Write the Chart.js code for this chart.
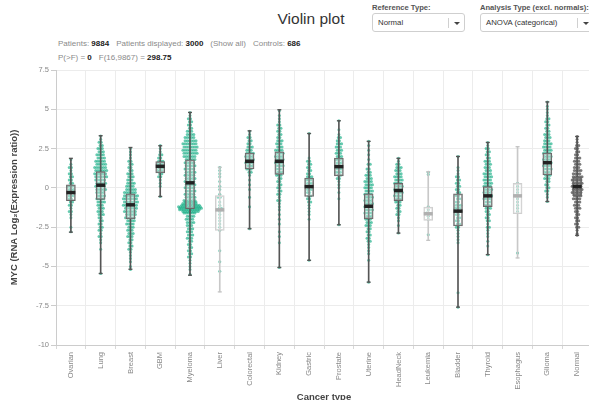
<!DOCTYPE html>
<html>
<head>
<meta charset="utf-8">
<script src="https://cdn.jsdelivr.net/npm/chart.js@4.4.1/dist/chart.umd.min.js"></script>
<style>
  html, body { margin: 0; padding: 0; width: 589px; height: 400px; overflow: hidden; background: #fff;
    font-family: "Liberation Sans", Arial, Helvetica, sans-serif; }
  #plotTitle { position: absolute; left: 0; width: 622px; top: 10px; text-align: center; font-size: 15.5px; color: #333; }
  .stats { position: absolute; left: 58px; font-size: 8px; color: #8a8a8a; white-space: nowrap; }
  .stats b { color: #222; }
  .stats .gap { display: inline-block; width: 7px; }
  .ctlLabel { position: absolute; top: 3px; font-size: 7.6px; font-weight: bold; color: #555; white-space: nowrap; }
  .select { position: absolute; top: 13px; height: 17px; border: 1px solid #cfcfcf; border-radius: 3px; background: #fff; }
  .select .txt { position: absolute; left: 5px; top: 0; line-height: 17px; font-size: 7.8px; color: #333; white-space: nowrap; }
  .select .div { position: absolute; top: 4px; width: 1px; height: 10px; background: #d0d0d0; }
  .select .caret { position: absolute; top: 8px; width: 0; height: 0; border-left: 3px solid transparent;
    border-right: 3px solid transparent; border-top: 3px solid #444; }
  #chartBox { position: absolute; left: 0; top: 62px; width: 600px; height: 345px; }
</style>
</head>
<body>
<div id="plotTitle">Violin plot</div>

<div class="stats" style="top:39px">Patients: <b>9884</b><span class="gap"></span>Patients displayed: <b>3000</b><span class="gap"></span>(Show all)<span class="gap"></span>Controls: <b>686</b></div>
<div class="stats" style="top:53px">P(&gt;F) = <b>0</b><span class="gap"></span>F(16,9867) = <b>298.75</b></div>

<div class="ctlLabel" style="left:372px">Reference Type:</div>
<div class="select" style="left:372px;width:91px"><span class="txt">Normal</span><span class="div" style="left:75px"></span><span class="caret" style="left:81px"></span></div>

<div class="ctlLabel" style="left:480px">Analysis Type (excl. normals):</div>
<div class="select" style="left:480px;width:120px"><span class="txt">ANOVA (categorical)</span><span class="div" style="left:96px"></span><span class="caret" style="left:102px"></span></div>

<div id="chartBox"><canvas id="violin"></canvas></div>

<script>
// Cancer types along the x axis
const cancerTypes = ['Ovarian', 'Lung', 'Breast', 'GBM', 'Myeloma', 'Liver', 'Colorectal', 'Kidney', 'Gastric',
  'Prostate', 'Uterine', 'HeadNeck', 'Leukemia', 'Bladder', 'Thyroid', 'Esophagus', 'Glioma', 'Normal'];

// Box-plot summary per cancer type (log2 expression ratio)
const whiskerLow  = [-2.82, -5.45, -5.18, -0.55, -5.56, -6.62, -2.60, -5.07, -4.61, -2.35, -6.00, -2.88, -3.34, -7.59, -4.25, -4.46, -0.87, -3.02];
const quartile1   = [-0.82, -0.74, -1.97,  0.95, -1.33, -2.71,  1.20,  0.86, -0.55,  0.76, -1.97, -0.81, -2.07, -2.43, -1.19, -1.65,  0.82, -0.49];
const medians     = [-0.30,  0.17, -1.08,  1.37,  0.32, -1.40,  1.69,  1.69,  0.08,  1.35, -1.17, -0.17, -1.65, -1.48, -0.51, -0.51,  1.60,  0.08];
const quartile3   = [ 0.19,  1.03, -0.38,  1.67,  1.78, -0.49,  2.22,  2.30,  0.63,  1.90, -0.38,  0.29, -1.23, -0.38,  0.08,  0.29,  2.22,  0.67];
const whiskerHigh = [ 1.88,  3.32,  2.57,  2.68,  4.80,  1.31,  3.63,  4.97,  3.46,  4.27,  2.96,  1.88,  1.03,  2.00,  2.89,  2.62,  5.47,  3.27];

// Groups drawn with a muted box (small sample size)
const mutedTypes = ['Liver', 'Leukemia', 'Esophagus'];

// Y axis tick values
const yTickValues = [-10, -7.5, -5, -2.5, 0, 2.5, 5, 7.5];

// Displayed patients per type: [expression value, number of patients at that value]
const ovarianPts = [[1.8,1],[1.5,1],[1.3,2],[1.1,1],[0.9,2],[0.7,2],[0.5,2],[0.3,2],[0.1,3],[-0.1,3],[-0.3,3],[-0.5,3],[-0.7,2],[-0.9,2],[-1.1,2],[-1.3,1],[-1.5,2],[-1.7,1],[-1.9,1],[-2.5,1],[-2.8,1]];
const lungPts = [[3.3,1],[3.1,1],[2.9,2],[2.7,2],[2.5,3],[2.3,3],[2.1,4],[1.9,4],[1.7,5],[1.5,5],[1.3,6],[1.1,6],[0.9,6],[0.7,6],[0.5,5],[0.3,5],[0.1,5],[-0.1,5],[-0.3,4],[-0.5,4],[-0.7,4],[-0.9,4],[-1.1,3],[-1.3,3],[-1.5,3],[-1.7,3],[-1.9,2],[-2.1,2],[-2.3,2],[-2.5,2],[-2.7,2],[-2.9,1],[-3.1,2],[-3.3,1],[-3.5,1],[-3.9,1],[-5.45,1]];
const breastPts = [[2.5,1],[2.3,1],[2.1,1],[1.9,1],[1.7,2],[1.5,2],[1.3,2],[1.1,2],[0.9,3],[0.7,3],[0.5,3],[0.3,4],[0.1,4],[-0.1,5],[-0.3,6],[-0.5,7],[-0.7,7],[-0.9,7],[-1.1,7],[-1.3,6],[-1.5,6],[-1.7,5],[-1.9,5],[-2.1,4],[-2.3,4],[-2.5,3],[-2.7,3],[-2.9,3],[-3.1,3],[-3.3,2],[-3.5,2],[-3.7,2],[-3.9,2],[-4.1,1],[-4.3,1],[-4.5,1],[-4.7,1],[-5.0,1],[-5.2,1]];
const gbmPts = [[2.7,1],[2.5,1],[2.3,1],[2.1,2],[1.9,2],[1.7,3],[1.5,3],[1.3,3],[1.1,3],[0.9,2],[0.7,2],[0.5,1],[0.3,1],[0.1,1],[-0.55,1]];
const myelomaPts = [[4.8,1],[4.6,1],[4.4,2],[4.2,2],[4.0,2],[3.8,2],[3.6,3],[3.4,4],[3.2,5],[3.0,6],[2.8,7],[2.6,7],[2.4,7],[2.2,7],[2.0,6],[1.8,5],[1.6,5],[1.4,5],[1.2,5],[1.0,5],[0.8,5],[0.6,5],[0.4,5],[0.2,5],[0.0,5],[-0.2,5],[-0.4,5],[-0.6,5],[-0.8,6],[-0.9,6],[-1.0,7],[-1.1,9],[-1.2,11],[-1.3,11],[-1.4,10],[-1.5,8],[-1.6,6],[-1.8,4],[-2.0,4],[-2.2,4],[-2.4,3],[-2.6,3],[-2.8,3],[-3.0,3],[-3.2,3],[-3.4,2],[-3.6,2],[-3.8,2],[-4.0,2],[-4.2,2],[-4.4,2],[-4.6,1],[-4.8,1],[-5.0,1],[-5.2,1],[-5.5,1]];
const liverPts = [[1.3,1],[1.1,1],[0.9,1],[0.7,1],[0.4,1],[0.1,1],[-0.1,1],[-0.4,1],[-0.6,2],[-0.9,1],[-1.1,1],[-1.3,2],[-1.5,1],[-1.7,1],[-1.9,1],[-2.1,1],[-2.3,1],[-2.5,1],[-2.7,1],[-4.0,1],[-4.7,1],[-5.3,1]];
const colorectalPts = [[3.6,1],[3.4,1],[3.2,2],[3.0,2],[2.8,2],[2.6,3],[2.4,3],[2.2,4],[2.0,4],[1.8,4],[1.6,4],[1.4,3],[1.2,3],[1.0,2],[0.8,1],[0.5,1],[0.2,1],[-0.1,1],[-0.6,1],[-1.2,1],[-2.6,1]];
const kidneyPts = [[4.9,1],[4.6,1],[4.4,1],[4.2,1],[4.0,2],[3.8,2],[3.6,2],[3.4,2],[3.2,2],[3.0,3],[2.8,3],[2.6,3],[2.4,4],[2.2,4],[2.0,4],[1.8,4],[1.6,4],[1.4,4],[1.2,3],[1.0,3],[0.8,3],[0.6,2],[0.4,2],[0.2,2],[0.0,2],[-0.2,2],[-0.4,2],[-0.6,1],[-0.8,2],[-1.0,1],[-1.2,1],[-1.4,1],[-1.7,1],[-2.0,1],[-2.3,1],[-2.8,1],[-3.1,1],[-3.5,1],[-5.07,1]];
const gastricPts = [[3.46,1],[1.9,1],[1.7,2],[1.5,2],[1.3,2],[1.1,2],[0.9,2],[0.7,3],[0.5,3],[0.3,3],[0.1,3],[-0.1,3],[-0.3,2],[-0.5,2],[-0.7,2],[-0.9,2],[-1.1,1],[-1.3,1],[-1.5,1],[-1.7,1],[-2.0,1],[-4.61,1]];
const prostatePts = [[4.27,1],[3.7,1],[3.4,1],[3.2,2],[3.0,2],[2.8,3],[2.6,3],[2.4,3],[2.2,3],[2.0,3],[1.8,3],[1.6,3],[1.4,3],[1.2,3],[1.0,3],[0.8,2],[0.6,2],[0.4,1],[0.2,1],[0.0,1],[-0.3,1],[-0.7,1],[-2.35,1]];
const uterinePts = [[2.96,1],[2.7,1],[2.4,1],[2.1,1],[1.8,1],[1.5,2],[1.2,2],[1.0,2],[0.8,3],[0.6,3],[0.4,4],[0.2,4],[0.0,4],[-0.2,4],[-0.4,4],[-0.6,4],[-0.8,4],[-1.0,4],[-1.2,4],[-1.4,4],[-1.6,4],[-1.8,3],[-2.0,3],[-2.2,3],[-2.4,3],[-2.6,2],[-2.8,2],[-3.0,2],[-3.2,2],[-3.4,2],[-3.6,1],[-3.8,1],[-4.0,1],[-4.2,1],[-4.6,1],[-6.0,1]];
const headNeckPts = [[1.88,1],[1.7,1],[1.5,2],[1.3,3],[1.1,3],[0.9,3],[0.7,4],[0.5,4],[0.3,4],[0.1,4],[-0.1,4],[-0.3,4],[-0.5,4],[-0.7,3],[-0.9,3],[-1.1,2],[-1.3,2],[-1.5,2],[-1.7,2],[-1.9,1],[-2.1,1],[-2.4,1],[-2.88,1]];
const leukemiaPts = [[1.0,1],[0.85,1],[-1.2,1],[-1.4,1],[-1.6,2],[-1.8,1],[-2.0,1],[-2.98,1]];
const bladderPts = [[2.0,1],[1.3,1],[1.1,1],[0.9,1],[0.7,2],[0.5,2],[0.3,2],[0.1,2],[-0.1,2],[-0.3,2],[-0.5,2],[-0.7,2],[-0.9,2],[-1.1,3],[-1.3,3],[-1.5,3],[-1.7,2],[-1.9,2],[-2.1,2],[-2.3,2],[-2.5,2],[-2.7,1],[-2.9,1],[-3.1,1],[-3.3,1],[-3.5,1],[-6.68,1],[-7.59,1]];
const thyroidPts = [[2.89,1],[2.7,1],[2.5,2],[2.3,2],[2.1,2],[1.9,2],[1.7,3],[1.5,3],[1.3,3],[1.1,3],[0.9,4],[0.7,4],[0.5,4],[0.3,4],[0.1,4],[-0.1,4],[-0.3,4],[-0.5,4],[-0.7,4],[-0.9,3],[-1.1,3],[-1.3,3],[-1.5,2],[-1.7,2],[-1.9,2],[-2.1,2],[-2.3,1],[-2.5,2],[-2.7,1],[-2.9,1],[-3.1,1],[-3.4,1],[-3.7,1],[-4.25,1]];
const esophagusPts = [[0.3,1],[0.1,1],[-0.1,1],[-0.3,1],[-0.5,2],[-0.7,1],[-0.9,1],[-1.1,1],[-1.3,1],[-1.5,1],[-4.15,1]];
const gliomaPts = [[5.47,1],[5.2,1],[5.0,1],[4.8,1],[4.6,1],[4.4,2],[4.2,2],[4.0,2],[3.8,2],[3.6,2],[3.4,3],[3.2,3],[3.0,3],[2.8,4],[2.6,4],[2.4,4],[2.2,4],[2.0,4],[1.8,4],[1.6,4],[1.4,4],[1.2,4],[1.0,3],[0.8,3],[0.6,3],[0.4,2],[0.2,2],[0.0,2],[-0.2,2],[-0.4,1],[-0.6,1],[-0.87,1]];
const normalPts = [[3.27,1],[3.1,1],[2.9,1],[2.7,2],[2.5,2],[2.3,2],[2.1,2],[1.9,3],[1.7,3],[1.5,3],[1.3,3],[1.1,4],[0.9,4],[0.7,5],[0.5,5],[0.3,5],[0.1,5],[-0.1,5],[-0.3,5],[-0.5,4],[-0.7,4],[-0.9,3],[-1.1,3],[-1.3,3],[-1.5,2],[-1.7,2],[-1.9,2],[-2.1,2],[-2.3,2],[-2.5,2],[-2.7,1],[-2.9,1],[-3.02,1]];

const pointsByType = [ovarianPts, lungPts, breastPts, gbmPts, myelomaPts, liverPts, colorectalPts, kidneyPts,
  gastricPts, prostatePts, uterinePts, headNeckPts, leukemiaPts, bladderPts, thyroidPts, esophagusPts, gliomaPts, normalPts];

// Styling
const FONT = '"Liberation Sans", Arial, Helvetica, sans-serif';
const TEAL = 'rgba(26,175,135,0.66)';
const GREY_DOT = 'rgba(80,80,80,0.75)';
const SLOT_PX = 30;            // width of one category slot
const DOT_GAP = 2.2 / SLOT_PX; // horizontal spacing between dots sharing a value

const isMuted = cancerTypes.map(t => mutedTypes.includes(t));
const isControl = cancerTypes.map(t => t === 'Normal');

// Spread dots that share a value side by side so the cloud takes the violin's shape;
// every other row is nudged by half a gap (brick pattern) so columns don't line up.
function swarm(rows, idx) {
  const out = [];
  rows.forEach(([v, n], r) => {
    const brick = (r % 2 ? 0.25 : -0.25) * DOT_GAP;
    for (let k = 0; k < n; k++) out.push({ x: idx + (k - (n - 1) / 2) * DOT_GAP + (n > 1 ? brick : 0), y: v });
  });
  return out;
}

const tumourDots = [];
const controlDots = [];
pointsByType.forEach((rows, i) => {
  (isControl[i] ? controlDots : tumourDots).push(...swarm(rows, i));
});

const capPoints = [];
const capColors = [];
cancerTypes.forEach((t, i) => {
  const c = isMuted[i] ? '#c4c4c4' : '#555';
  capPoints.push({ x: i, y: whiskerLow[i] }, { x: i, y: whiskerHigh[i] });
  capColors.push(c, c);
});

const datasets = [
  {
    type: 'scatter', label: 'tumour', order: 10,
    data: tumourDots, pointRadius: 1.5, pointBorderWidth: 0, pointBackgroundColor: TEAL
  },
  {
    type: 'scatter', label: 'control', order: 9,
    data: controlDots, pointRadius: 1.5, pointBorderWidth: 0, pointBackgroundColor: GREY_DOT
  },
  {
    type: 'bar', label: 'whisker', order: 8, grouped: false,
    data: cancerTypes.map((t, i) => ({ x: i, y: [whiskerLow[i], whiskerHigh[i]] })),
    barThickness: 1, borderWidth: 0,
    backgroundColor: isMuted.map(m => m ? '#c8c8c8' : '#555')
  },
  {
    type: 'bar', label: 'box', order: 6, grouped: false,
    data: cancerTypes.map((t, i) => ({ x: i, y: [quartile1[i], quartile3[i]] })),
    barThickness: 9, borderWidth: 1, borderSkipped: false,
    borderColor: isMuted.map(m => m ? '#cfcfcf' : '#666'),
    backgroundColor: isControl.map(c => c ? 'rgba(110,110,110,0.35)' : 'rgba(255,255,255,0.3)')
  },
  {
    type: 'scatter', label: 'caps', order: 4,
    data: capPoints, pointStyle: 'line', pointRadius: 2, pointBorderWidth: 1.3, pointBorderColor: capColors
  },
  {
    type: 'scatter', label: 'median', order: 2,
    data: medians.map((m, i) => ({ x: i, y: m })),
    pointStyle: 'line', pointRadius: 4.5, pointBorderWidth: 3.5,
    pointBorderColor: isMuted.map(m => m ? '#b0b0b0' : '#222')
  }
];

new Chart(document.getElementById('violin'), {
  type: 'bar',
  data: { datasets },
  options: {
    responsive: true,
    maintainAspectRatio: false,
    animation: false,
    events: [],
    layout: { padding: { top: 7, right: 4, left: 0, bottom: 0 } },
    plugins: { legend: { display: false }, tooltip: { enabled: false } },
    scales: {
      x: {
        type: 'linear', position: 'bottom', offset: false,
        min: -0.5, max: cancerTypes.length - 0.5,
        afterBuildTicks(s) { s.ticks = cancerTypes.map((t, i) => ({ value: i })); },
        grid: { offset: true, color: '#ececec', tickLength: 4, tickColor: '#d8d8d8' },
        border: { color: '#cccccc' },
        ticks: { autoSkip: false, maxRotation: 90, minRotation: 90, padding: 3, color: '#888',
          font: { family: FONT, size: 7.5 },
          callback: v => cancerTypes[v] },
        title: { display: true, text: 'Cancer type', color: '#444', padding: { top: 0, bottom: 4 },
          font: { family: FONT, size: 9.5, weight: 'bold' } },
        afterFit(s) { s.height = 62; s.paddingLeft = 0; s.paddingRight = 0; }
      },
      y: {
        min: -10, max: 7.5,
        afterBuildTicks(s) { s.ticks = yTickValues.map(v => ({ value: v })); },
        grid: { color: '#ececec', tickLength: 5, tickColor: '#cccccc' },
        border: { color: '#cccccc' },
        ticks: { color: '#888', padding: 2, font: { family: FONT, size: 7.5 } },
        title: { display: true, text: 'MYC (RNA Log\u2082(Expression ratio))', color: '#444',
          padding: { top: 9, bottom: 0 }, font: { family: FONT, size: 9.5, weight: 'bold' } },
        afterFit(s) { s.width = 56; }
      }
    }
  }
});
</script>
</body>
</html>
